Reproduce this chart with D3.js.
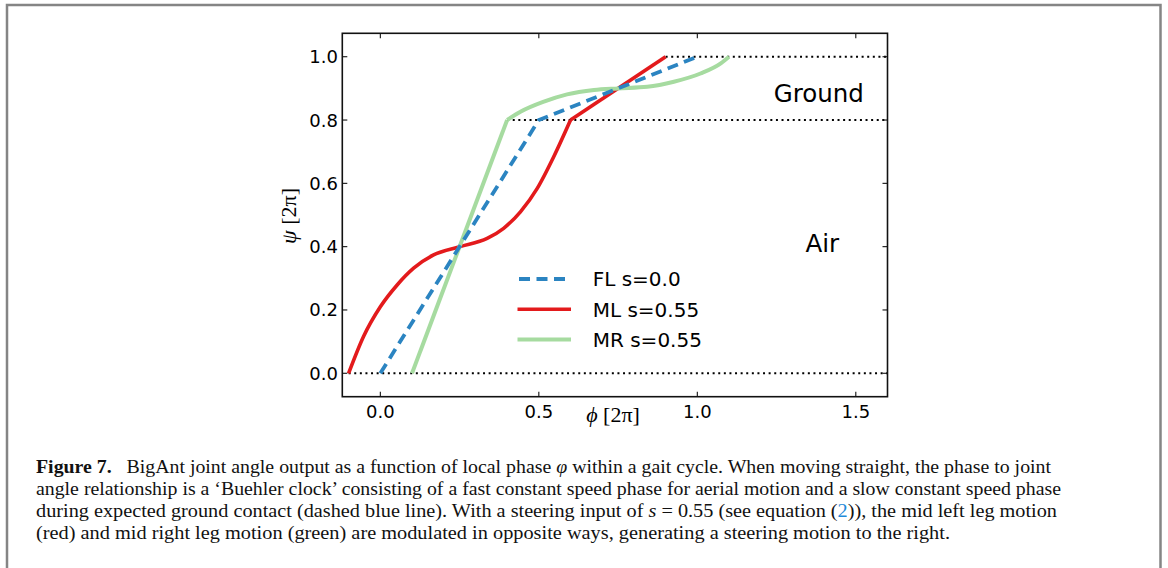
<!DOCTYPE html>
<html>
<head>
<meta charset="utf-8">
<script src="https://cdn.jsdelivr.net/npm/d3@7"></script>
<style>
  body { margin: 0; background: #fff; }
  svg { display: block; }
</style>
</head>
<body>
<svg id="chart" width="1168" height="568"></svg>
<script>
// values (phi, psi in units of 2pi)
var phiTicks = [0.0, 0.5, 1.0, 1.5];
var psiTicks = [0.0, 0.2, 0.4, 0.6, 0.8, 1.0];

var flPhi = [0.0, 0.5, 1.0];
var flPsi = [0.0, 0.8, 1.0];

var mlAirPhi = [-0.1, -0.053, 0.0, 0.053, 0.105, 0.168, 0.25, 0.337, 0.389, 0.442, 0.495, 0.547, 0.6];
var mlAirPsi = [0.0, 0.116, 0.21, 0.279, 0.332, 0.374, 0.40, 0.426, 0.458, 0.51, 0.584, 0.684, 0.8];
var mlGroundPhi = [0.6, 0.9];
var mlGroundPsi = [0.8, 1.0];

var mrAirPhi = [0.1, 0.4];
var mrAirPsi = [0.0, 0.8];
var mrGroundPhi = [0.4, 0.442, 0.516, 0.589, 0.674, 0.75, 0.842, 0.926, 1.01, 1.074, 1.1];
var mrGroundPsi = [0.8, 0.826, 0.858, 0.881, 0.895, 0.9, 0.905, 0.921, 0.947, 0.979, 1.0];

// dotted phase boundaries: level, from phi, to phi
var guideLevels = [0.0, 0.8, 1.0];
var guideFrom = [-0.1, 0.4, 0.9];
var guideTo = [1.6, 1.6, 1.6];

var legendLabels = ["FL s=0.0", "ML s=0.55", "MR s=0.55"];

var caption = [
  [["Figure 7.", "b"], ["\u2002 BigAnt joint angle output as a function of local phase ", ""], ["\u03c6", "i"], [" within a gait cycle. When moving straight, the phase to joint", ""]],
  [["angle relationship is a \u2018Buehler clock\u2019 consisting of a fast constant speed phase for aerial motion and a slow constant speed phase", ""]],
  [["during expected ground contact (dashed blue line). With a steering input of ", ""], ["s", "i"], [" = 0.55 (see equation (", ""], ["2", "link"], [")), the mid left leg motion", ""]],
  [["(red) and mid right leg motion (green) are modulated in opposite ways, generating a steering motion to the right.", ""]]
];
var captionWidths = [1015, 1025, 1021, 914];

var svg = d3.select("#chart");

var blue = "#2b84c1", red = "#e31a1c", green = "#a6dba0";
var sans = "DejaVu Sans, sans-serif";
var serif = "Liberation Serif, Times New Roman, serif";

// outer frame
svg.append("path")
  .attr("d", "M7,575 L7,5 L1160.5,5 L1160.5,575")
  .attr("fill", "none")
  .attr("stroke", "#858585")
  .attr("stroke-width", 2.5);

var x = d3.scaleLinear().domain([-0.12, 1.6]).range([342.3, 887.5]);
var y = d3.scaleLinear().domain([-0.074, 1.074]).range([396.7, 33.3]);

var line = d3.line()
  .x(function(d) { return x(d[0]); })
  .y(function(d) { return y(d[1]); });
var smooth = d3.line()
  .x(function(d) { return x(d[0]); })
  .y(function(d) { return y(d[1]); })
  .curve(d3.curveMonotoneX);

function pairs(a, b) { return a.map(function(v, i) { return [v, b[i]]; }); }

var plot = svg.append("g");

// dotted guides
guideLevels.forEach(function(lv, i) {
  plot.append("path")
    .attr("d", line([[guideFrom[i], lv], [guideTo[i], lv]]))
    .attr("stroke", "#000")
    .attr("stroke-width", 2)
    .attr("stroke-dasharray", "2,3.6")
    .attr("fill", "none");
});

// curves
plot.append("path").attr("d", smooth(pairs(mlAirPhi, mlAirPsi)))
  .attr("fill", "none").attr("stroke", red).attr("stroke-width", 3.6);
plot.append("path").attr("d", line(pairs(mlGroundPhi, mlGroundPsi)))
  .attr("fill", "none").attr("stroke", red).attr("stroke-width", 3.6);

plot.append("path").attr("d", line(pairs(mrAirPhi, mrAirPsi)))
  .attr("fill", "none").attr("stroke", green).attr("stroke-width", 4);
plot.append("path").attr("d", smooth(pairs(mrGroundPhi, mrGroundPsi)))
  .attr("fill", "none").attr("stroke", green).attr("stroke-width", 4);

plot.append("path").attr("d", line(pairs(flPhi, flPsi)))
  .attr("fill", "none").attr("stroke", blue).attr("stroke-width", 3.8)
  .attr("stroke-dasharray", "11,6.5");

// axes frame + inward ticks
var frame = svg.append("g");
frame.append("rect")
  .attr("x", x.range()[0]).attr("y", y.range()[1])
  .attr("width", x.range()[1] - x.range()[0])
  .attr("height", y.range()[0] - y.range()[1])
  .attr("fill", "none").attr("stroke", "#111").attr("stroke-width", 1.6);

var tickLen = 5;
phiTicks.forEach(function(t) {
  frame.append("line").attr("x1", x(t)).attr("x2", x(t))
    .attr("y1", y.range()[0]).attr("y2", y.range()[0] - tickLen)
    .attr("stroke", "#111").attr("stroke-width", 1.1);
  frame.append("line").attr("x1", x(t)).attr("x2", x(t))
    .attr("y1", y.range()[1]).attr("y2", y.range()[1] + tickLen)
    .attr("stroke", "#111").attr("stroke-width", 1.1);
  frame.append("text").attr("x", x(t)).attr("y", 418.3)
    .attr("text-anchor", "middle")
    .style("font-family", sans).style("font-size", "18px").attr("fill", "#000")
    .text(d3.format(".1f")(t));
});
psiTicks.forEach(function(t) {
  frame.append("line").attr("y1", y(t)).attr("y2", y(t))
    .attr("x1", x.range()[0]).attr("x2", x.range()[0] + tickLen)
    .attr("stroke", "#111").attr("stroke-width", 1.1);
  frame.append("line").attr("y1", y(t)).attr("y2", y(t))
    .attr("x1", x.range()[1]).attr("x2", x.range()[1] - tickLen)
    .attr("stroke", "#111").attr("stroke-width", 1.1);
  frame.append("text").attr("x", 338).attr("y", y(t) + 6.5)
    .attr("text-anchor", "end")
    .style("font-family", sans).style("font-size", "18px").attr("fill", "#000")
    .text(d3.format(".1f")(t));
});

// axis labels
var xl = svg.append("text").attr("x", 613).attr("y", 422)
  .attr("text-anchor", "middle")
  .style("font-family", serif).style("font-size", "22px");
xl.append("tspan").style("font-style", "italic").text("\u03d5");
xl.append("tspan").text(" [2\u03c0]");

var yl = svg.append("text")
  .attr("transform", "translate(296,216) rotate(-90)")
  .attr("text-anchor", "middle")
  .style("font-family", serif).style("font-size", "22px");
yl.append("tspan").style("font-style", "italic").text("\u03c8");
yl.append("tspan").text(" [2\u03c0]");

// region labels
svg.append("text").attr("x", x(1.241)).attr("y", y(0.857))
  .style("font-family", sans).style("font-size", "24.5px").text("Ground");
svg.append("text").attr("x", x(1.341)).attr("y", y(0.384))
  .style("font-family", sans).style("font-size", "24.5px").text("Air");

// legend
var legColors = [blue, red, green];
var legWidths = [3.8, 3.6, 4];
var legRows = [279, 309.3, 339.5];
legendLabels.forEach(function(lab, i) {
  var ln = svg.append("line")
    .attr("x1", 517.5).attr("x2", 571).attr("y1", legRows[i]).attr("y2", legRows[i])
    .attr("stroke", legColors[i]).attr("stroke-width", legWidths[i]);
  if (i === 0) ln.attr("stroke-dasharray", "11,6.5").attr("x1", 519);
  svg.append("text").attr("x", 592.7).attr("y", legRows[i] + 7.3)
    .style("font-family", sans).style("font-size", "20px").text(lab);
});

// caption
var capBase = [473.3, 495, 516.8, 538.6];
caption.forEach(function(segs, i) {
  var t = svg.append("text").attr("x", 36).attr("y", capBase[i])
    .attr("textLength", captionWidths[i]).attr("lengthAdjust", "spacingAndGlyphs")
    .style("font-family", serif).style("font-size", "18.5px").attr("fill", "#111");
  segs.forEach(function(s) {
    var sp = t.append("tspan").text(s[0]);
    if (s[1] === "b") sp.style("font-weight", "bold");
    if (s[1] === "i") sp.style("font-style", "italic");
    if (s[1] === "link") sp.attr("fill", "#1f8ad8");
  });
});
</script>
</body>
</html>
